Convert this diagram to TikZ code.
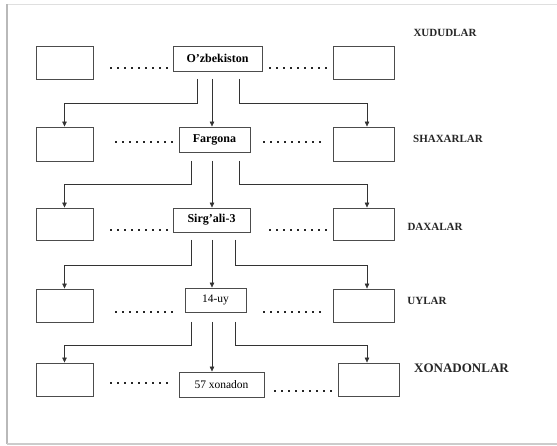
\documentclass[tikz,border=0pt]{standalone}
\usepackage{fontspec}
\setmainfont{Liberation Serif}
\usetikzlibrary{arrows.meta}

\tikzset{
  box/.style={draw=black!70, line width=0.9pt, fill=white, inner sep=0pt,
              font=\fontsize{11.5}{13}\selectfont},
  boldbox/.style={box, font=\fontsize{12}{14}\selectfont\bfseries},
  sidebox/.style={box, minimum width=57pt, minimum height=33pt},
  rightbox/.style={box, minimum width=61pt, minimum height=33pt},
  arr/.style={draw=black!80, line width=0.6pt,
              -{Triangle[length=5pt,width=4.5pt]}},
  dots/.style={line width=2.2pt, dash pattern=on 2.2pt off 4.8pt, black!85},
  level/.style={font=\fontsize{11}{13}\selectfont\bfseries, text=black!85},
}

\begin{document}
\begin{tikzpicture}[x=1pt, y=-1pt]
  \useasboundingbox (0,0) rectangle (557,446);

  % soft page frame
  \fill[white] (7,5) rectangle (557,444);
  \draw[gray!25, line width=1.2pt] (7,4.5) -- (557,4.5);
  \draw[gray!55, line width=1.6pt] (7,4.5) -- (7,444);
  \draw[gray!40, line width=1.4pt] (7,444) -- (557,444);

  % row 1
  \node[sidebox] (l1) at (64.5,62.5) {};
  \node[boldbox, minimum width=89pt, minimum height=25pt] (c1) at (217.5,58.5) {O’zbekiston};
  \node[rightbox] (r1) at (363.5,62.5) {};
  % row 2
  \node[sidebox, minimum height=34pt] (l2) at (64.5,144) {};
  \node[boldbox, minimum width=71pt, minimum height=25pt] (c2) at (214.5,139.5) {Fargona};
  \node[rightbox, minimum height=34pt] (r2) at (363.5,144) {};
  % row 3
  \node[sidebox, minimum height=32pt] (l3) at (64.5,224) {};
  \node[boldbox, minimum width=77pt, minimum height=24pt] (c3) at (211.5,220) {Sirg’ali-3};
  \node[rightbox, minimum height=32pt] (r3) at (363.5,224) {};
  % row 4
  \node[sidebox] (l4) at (64.5,305.5) {};
  \node[box, minimum width=61pt, minimum height=24pt] (c4) at (215.5,300) {14-uy};
  \node[rightbox] (r4) at (363.5,305.5) {};
  % row 5
  \node[sidebox] (l5) at (64.5,379.5) {};
  \node[box, minimum width=85pt, minimum height=25pt] (c5) at (221.5,384.5) {57 xonadon};
  \node[rightbox] (r5) at (368.5,379.5) {};

  % dotted fillers between boxes
  \draw[dots] (110,68) -- (170,68);   \draw[dots] (269,68) -- (329,68);
  \draw[dots] (115,142) -- (175,142); \draw[dots] (263,142) -- (323,142);
  \draw[dots] (110,230) -- (170,230); \draw[dots] (269,230) -- (329,230);
  \draw[dots] (115,312) -- (175,312); \draw[dots] (263,312) -- (323,312);
  \draw[dots] (110,383) -- (170,383); \draw[dots] (274,391) -- (334,391);

  % level labels
  \node[level] (t1) at (445,33) {XUDUDLAR};
  \node[level] (t2) at (448,139) {SHAXARLAR};
  \node[level] (t3) at (435,227) {DAXALAR};
  \node[level] (t4) at (427,301) {UYLAR};
  \node[level, font=\fontsize{13}{15}\selectfont\bfseries] (t5) at (461.5,368) {XONADONLAR};

  % branch start points below each centre box
  \coordinate (a1) at (197,79);  \coordinate (b1) at (212,79);  \coordinate (d1) at (239,79);
  \coordinate (a2) at (191,161); \coordinate (b2) at (212,161); \coordinate (d2) at (239,161);
  \coordinate (a3) at (191,240); \coordinate (b3) at (212,240); \coordinate (d3) at (235,240);
  \coordinate (a4) at (191,322); \coordinate (b4) at (212,322); \coordinate (d4) at (235,322);

  % level 1 -> 2
  \draw[arr] (a1) -- ++(0,24) -| (l2.north);
  \draw[arr] (b1) -- (b1 |- c2.north);
  \draw[arr] (d1) -- ++(0,24) -| ([xshift=3.5pt]r2.north);
  % level 2 -> 3
  \draw[arr] (a2) -- ++(0,23) -| (l3.north);
  \draw[arr] (b2) -- (b2 |- c3.north);
  \draw[arr] (d2) -- ++(0,23) -| ([xshift=3.5pt]r3.north);
  % level 3 -> 4
  \draw[arr] (a3) -- ++(0,25) -| (l4.north);
  \draw[arr] (b3) -- (b3 |- c4.north);
  \draw[arr] (d3) -- ++(0,25) -| ([xshift=3.5pt]r4.north);
  % level 4 -> 5
  \draw[arr] (a4) -- ++(0,23) -| (l5.north);
  \draw[arr] (b4) -- (b4 |- c5.north);
  \draw[arr] (d4) -- ++(0,23) -| ([xshift=-1.5pt]r5.north);
\end{tikzpicture}
\end{document}
